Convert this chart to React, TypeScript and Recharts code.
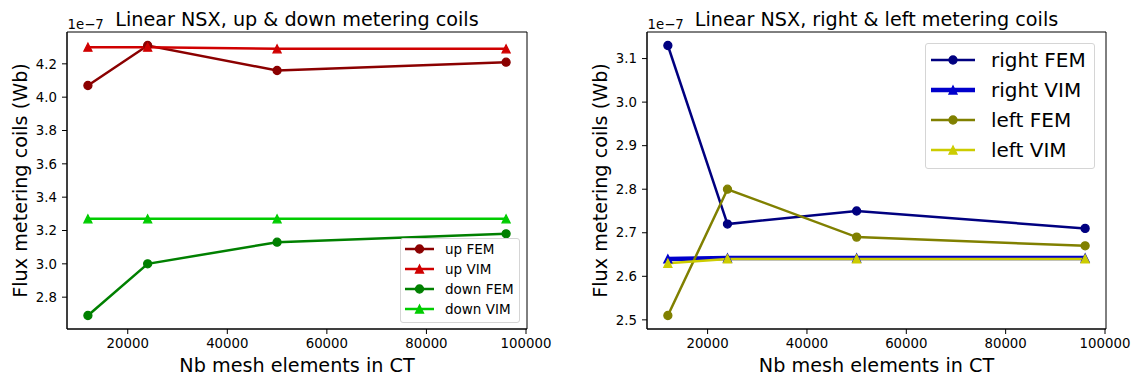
import React from 'react';
import { LineChart, Line, XAxis, YAxis, Legend, ReferenceArea } from 'recharts';

// ---- data (flux values in units of 1e-7 Wb) ----
const meshElements = [12000, 24000, 50000, 96000];

const upFEM = [4.07, 4.31, 4.16, 4.21];
const upVIM = [4.3, 4.3, 4.29, 4.29];
const downFEM = [2.69, 3.0, 3.13, 3.18];
const downVIM = [3.27, 3.27, 3.27, 3.27];

const rightFEM = [3.13, 2.72, 2.75, 2.71];
const rightVIM = [2.64, 2.642, 2.642, 2.642];
const leftFEM = [2.51, 2.8, 2.69, 2.67];
const leftVIM = [2.63, 2.64, 2.64, 2.64];

const xTicks = [20000, 40000, 60000, 80000, 100000];
const leftYTicks = [2.8, 3.0, 3.2, 3.4, 3.6, 3.8, 4.0, 4.2];
const rightYTicks = [2.5, 2.6, 2.7, 2.8, 2.9, 3.0, 3.1];

const xDomain: [number, number] = [7800, 100200];
const leftYDomain: [number, number] = [2.609, 4.391];
const rightYDomain: [number, number] = [2.479, 3.161];

const FONT = '"DejaVu Sans", Verdana, sans-serif';

type Series = { key: string; name: string; color: string; marker: 'o' | '^'; width: number };

const leftSeries: Series[] = [
  { key: 'upFEM', name: 'up FEM', color: '#8b0000', marker: 'o', width: 2.5 },
  { key: 'upVIM', name: 'up VIM', color: '#d00000', marker: '^', width: 2.5 },
  { key: 'downFEM', name: 'down FEM', color: '#008000', marker: 'o', width: 2.5 },
  { key: 'downVIM', name: 'down VIM', color: '#00cc00', marker: '^', width: 2.5 },
];
const rightSeries: Series[] = [
  { key: 'rightFEM', name: 'right FEM', color: '#000080', marker: 'o', width: 2.5 },
  { key: 'rightVIM', name: 'right VIM', color: '#0000cc', marker: '^', width: 4.5 },
  { key: 'leftFEM', name: 'left FEM', color: '#808000', marker: 'o', width: 2.5 },
  { key: 'leftVIM', name: 'left VIM', color: '#cccc00', marker: '^', width: 2.5 },
];

const leftData = meshElements.map((x, i) => ({
  x,
  upFEM: upFEM[i],
  upVIM: upVIM[i],
  downFEM: downFEM[i],
  downVIM: downVIM[i],
}));
const rightData = meshElements.map((x, i) => ({
  x,
  rightFEM: rightFEM[i],
  rightVIM: rightVIM[i],
  leftFEM: leftFEM[i],
  leftVIM: leftVIM[i],
}));

const R = 4;

function markerShape(marker: 'o' | '^', cx: number, cy: number, color: string, key?: string) {
  if (marker === 'o') {
    return <circle key={key} cx={cx} cy={cy} r={R} fill={color} stroke={color} strokeWidth={1.3} />;
  }
  const pts = `${cx},${cy - R} ${cx - R},${cy + R} ${cx + R},${cy + R}`;
  return <polygon key={key} points={pts} fill={color} stroke={color} strokeWidth={1.3} strokeLinejoin="miter" />;
}

function makeDot(s: Series) {
  return (props: any) => {
    const { cx, cy, index } = props;
    if (cx == null || cy == null) return <g key={`e-${s.key}-${index}`} />;
    return markerShape(s.marker, cx, cy, s.color, `d-${s.key}-${index}`);
  };
}

type LegendGeom = {
  left: number;
  top: number;
  width: number;
  height: number;
  rowStart: number;
  rowGap: number;
  handleX0: number;
  handleX1: number;
  textX: number;
  fontSize: number;
};

function LegendBox({ series, g }: { series: Series[]; g: LegendGeom }) {
  const rowH = g.rowGap;
  return (
    <div
      style={{
        position: 'relative',
        width: g.width,
        height: g.height,
        boxSizing: 'border-box',
        border: '1px solid #d5d5d5',
        borderRadius: 3,
        background: 'rgba(255,255,255,0.85)',
        fontFamily: FONT,
        fontSize: g.fontSize,
        color: '#000',
      }}
    >
      {series.map((s, i) => {
        const cy = g.rowStart + i * g.rowGap;
        return (
          <div
            key={s.key}
            style={{ position: 'absolute', left: 0, top: cy - rowH / 2 - 1, width: g.width, height: rowH }}
          >
            <svg width={g.textX} height={rowH} style={{ position: 'absolute', left: -1, top: 0 }}>
              <line x1={g.handleX0} x2={g.handleX1} y1={rowH / 2} y2={rowH / 2} stroke={s.color} strokeWidth={s.width} />
              {markerShape(s.marker, (g.handleX0 + g.handleX1) / 2, rowH / 2, s.color)}
            </svg>
            <div
              style={{
                position: 'absolute',
                left: g.textX - 1,
                top: 0,
                height: rowH,
                lineHeight: `${rowH}px`,
                whiteSpace: 'nowrap',
              }}
            >
              {s.name}
            </div>
          </div>
        );
      })}
    </div>
  );
}

function Panel({
  data,
  series,
  width,
  yAxisWidth,
  rightMargin,
  yDomain,
  yTicks,
  legend,
}: {
  data: any[];
  series: Series[];
  width: number;
  yAxisWidth: number;
  rightMargin: number;
  yDomain: [number, number];
  yTicks: number[];
  legend: LegendGeom;
}) {
  const tickStyle = { fill: '#000', fontSize: 13.3, fontFamily: FONT };
  return (
    <LineChart width={width} height={379} data={data} margin={{ top: 32, right: rightMargin, bottom: 0, left: 0 }}>
      <XAxis
        dataKey="x"
        type="number"
        domain={xDomain}
        ticks={xTicks}
        interval={0}
        allowDataOverflow
        height={50}
        tickSize={5}
        tickMargin={4.5}
        stroke="#000"
        tick={tickStyle}
        tickFormatter={(v: number) => String(v)}
      />
      <YAxis
        type="number"
        domain={yDomain}
        ticks={yTicks}
        interval={0}
        allowDataOverflow
        width={yAxisWidth}
        tickSize={5}
        tickMargin={5}
        stroke="#000"
        tick={tickStyle}
        tickFormatter={(v: number) => v.toFixed(1)}
      />
      {series.map((s) => (
        <Line
          key={s.key}
          dataKey={s.key}
          name={s.name}
          type="linear"
          stroke={s.color}
          strokeWidth={s.width}
          dot={makeDot(s)}
          activeDot={false}
          isAnimationActive={false}
        />
      ))}
      <ReferenceArea
        x1={xDomain[0]}
        x2={xDomain[1]}
        y1={yDomain[0]}
        y2={yDomain[1]}
        fill="none"
        fillOpacity={0}
        stroke="#000"
        strokeWidth={1}
        ifOverflow="visible"
      />
      <Legend
        layout="vertical"
        align="center"
        verticalAlign="middle"
        wrapperStyle={{ left: legend.left, top: legend.top, width: legend.width, height: legend.height }}
        content={() => <LegendBox series={series} g={legend} />}
      />
    </LineChart>
  );
}

const leftLegend: LegendGeom = {
  left: 400,
  top: 238,
  width: 120,
  height: 85,
  rowStart: 11,
  rowGap: 20,
  handleX0: 5,
  handleX1: 34,
  textX: 45,
  fontSize: 13.5,
};
const rightLegend: LegendGeom = {
  left: 355,
  top: 43,
  width: 170,
  height: 126,
  rowStart: 17,
  rowGap: 30,
  handleX0: 6,
  handleX1: 50,
  textX: 66,
  fontSize: 20,
};

export default function App() {
  return (
    <div style={{ position: 'absolute', left: 0, top: 0, width: 1132, height: 379, background: '#fff', fontFamily: FONT }}>
      <div style={{ position: 'absolute', left: 0, top: 0 }}>
        <Panel
          data={leftData}
          series={leftSeries}
          width={560}
          yAxisWidth={67}
          rightMargin={33}
          yDomain={leftYDomain}
          yTicks={leftYTicks}
          legend={leftLegend}
        />
      </div>
      <div style={{ position: 'absolute', left: 570, top: 0 }}>
        <Panel
          data={rightData}
          series={rightSeries}
          width={562}
          yAxisWidth={77}
          rightMargin={26}
          yDomain={rightYDomain}
          yTicks={rightYTicks}
          legend={rightLegend}
        />
      </div>
      <svg
        width={1132}
        height={379}
        style={{ position: 'absolute', left: 0, top: 0, pointerEvents: 'none' }}
        fontFamily={FONT}
      >
        <text x={297} y={25.5} fontSize={19.2} textAnchor="middle" fill="#000">
          Linear NSX, up &amp; down metering coils
        </text>
        <text x={876.5} y={25.5} fontSize={19.2} textAnchor="middle" fill="#000">
          Linear NSX, right &amp; left metering coils
        </text>
        <text x={67.5} y={28.5} fontSize={13.3} fill="#000">
          1e−7
        </text>
        <text x={647.5} y={28.5} fontSize={13.3} fill="#000">
          1e−7
        </text>
        <text transform="translate(27,180.5) rotate(-90)" fontSize={19.2} textAnchor="middle" fill="#000">
          Flux metering coils (Wb)
        </text>
        <text transform="translate(607,180.5) rotate(-90)" fontSize={19.2} textAnchor="middle" fill="#000">
          Flux metering coils (Wb)
        </text>
        <text x={297} y={371.5} fontSize={19.2} textAnchor="middle" fill="#000">
          Nb mesh elements in CT
        </text>
        <text x={876.5} y={371.5} fontSize={19.2} textAnchor="middle" fill="#000">
          Nb mesh elements in CT
        </text>
      </svg>
    </div>
  );
}
